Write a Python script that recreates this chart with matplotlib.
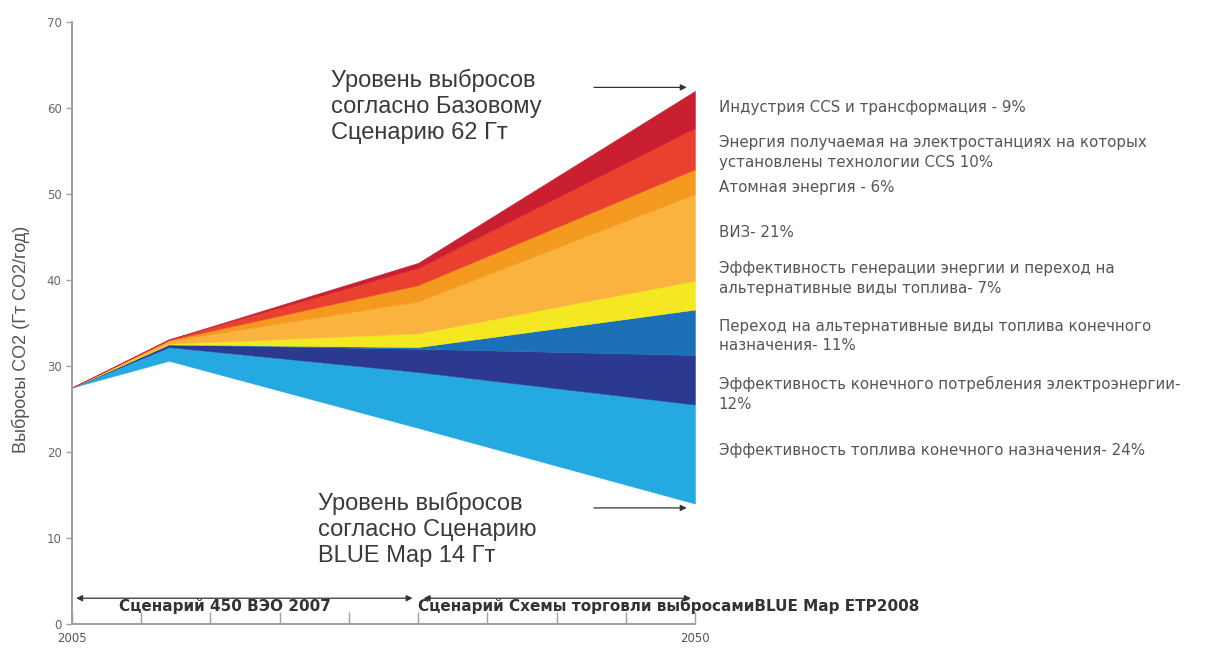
import numpy as np
import matplotlib.pyplot as plt

# Years where the wedges change slope
years = [2005, 2012, 2030, 2050]

# Lower bound of the fan (BLUE Map emissions, Gt CO2/year)
blue_map = [27.5, 30.6, 22.8, 14.0]
baseline_2050 = 62.0

# Wedges from bottom to top: label, share of the 2050 reduction (%), colour
labels = [
    'Эффективность топлива конечного назначения- 24%',
    'Эффективность конечного потребления электроэнергии-\n12%',
    'Переход на альтернативные виды топлива конечного\nназначения- 11%',
    'Эффективность генерации энергии и переход на\nальтернативные виды топлива- 7%',
    'ВИЗ- 21%',
    'Атомная энергия - 6%',
    'Энергия получаемая на электростанциях на которых\nустановлены технологии CCS 10%',
    'Индустрия CCS и трансформация - 9%',
]
shares = [24, 12, 11, 7, 21, 6, 10, 9]
colors = ['#24a9e1', '#2b3990', '#1b70b8', '#f4e823',
          '#fbb33f', '#f39a1f', '#ea412f', '#c91f30']

# wedge widths for 2005, 2012, 2030 (Gt), 2050 follows from the shares
early = [
    [0, 1.6, 6.5],
    [0, 0.3, 2.7],
    [0, 0.0, 0.2],
    [0, 0.1, 1.6],
    [0, 0.3, 3.7],
    [0, 0.1, 1.9],
    [0, 0.1, 2.0],
    [0, 0.0, 0.6],
]
total_cut = baseline_2050 - blue_map[-1]
widths = [w + [total_cut * s / 100] for w, s in zip(early, shares)]

# label positions (y in Gt) on the right of the fan
label_y = [20.2, 26.8, 33.5, 40.2, 45.5, 50.7, 54.8, 60.1]

fig = plt.figure(figsize=(12.1, 6.57), dpi=100)
ax = fig.add_axes([0.0595, 0.0502, 0.5149, 0.9163])

lower = np.array(blue_map, dtype=float)
for w, c in zip(widths, colors):
    upper = lower + np.array(w)
    ax.fill_between(years, lower, upper, color=c, lw=0.3, ec=c)
    lower = upper

for lab, yy in zip(labels, label_y):
    ax.text(2051.7, yy, lab, fontsize=10.8, color='#555555', va='center',
            ha='left', clip_on=False, linespacing=1.4)

# scenario annotations
big = dict(fontsize=17, color='#3a3a3a', family='Liberation Sans',
           linespacing=1.23, va='center', ha='left')
ax.text(2023.7, 60.2, 'Уровень выбросов\nсогласно Базовому\nСценарию 62 Гт', **big)
ax.text(2022.8, 11.0, 'Уровень выбросов\nсогласно Сценарию\nBLUE Map 14 Гт', **big)

arr = dict(arrowstyle='-|>', color='#333333', lw=0.9, mutation_scale=9)
ax.annotate('', xy=(2049.6, 62.4), xytext=(2042.5, 62.4), arrowprops=arr)
ax.annotate('', xy=(2049.6, 13.5), xytext=(2042.5, 13.5), arrowprops=arr)

darr = dict(arrowstyle='<|-|>', color='#333333', lw=0.9, mutation_scale=9)
ax.annotate('', xy=(2005.1, 3.0), xytext=(2029.8, 3.0), arrowprops=darr)
ax.annotate('', xy=(2030.2, 3.0), xytext=(2049.9, 3.0), arrowprops=darr)
scen = dict(fontsize=11, fontweight='bold', color='#333333',
            family='DejaVu Sans', va='center', ha='left')
ax.text(2008.4, 2.1, 'Сценарий 450 ВЭО 2007', **scen)
ax.text(2030.0, 2.1, 'Сценарий Схемы торговли выбросамиBLUE Map ETP2008', **scen)

ax.set_xlim(2005, 2050)
ax.set_ylim(0, 70)
ax.spines['top'].set_visible(False)
ax.spines['right'].set_visible(False)
for s in ['left', 'bottom']:
    ax.spines[s].set_color('#a0a0a0')
    ax.spines[s].set_linewidth(1.5)

ax.set_yticks(range(0, 71, 10))
ax.tick_params(axis='y', colors='#a0a0a0', labelcolor='#666666',
               labelsize=8.5, length=4, width=1)
ax.set_xticks(range(2005, 2051, 5))
ax.set_xticklabels(['2005'] + [''] * 8 + ['2050'])
ax.tick_params(axis='x', direction='in', colors='#a0a0a0',
               labelcolor='#555555', labelsize=8.5, length=9, width=1, pad=6)

ax.set_ylabel('Выбросы CO2 (Гт CO2/год)', fontsize=13, color='#555555',
              family='Liberation Sans', labelpad=10)
ax.yaxis.set_label_coords(-0.068, 0.472)

fig.savefig('out.png', dpi=100)
